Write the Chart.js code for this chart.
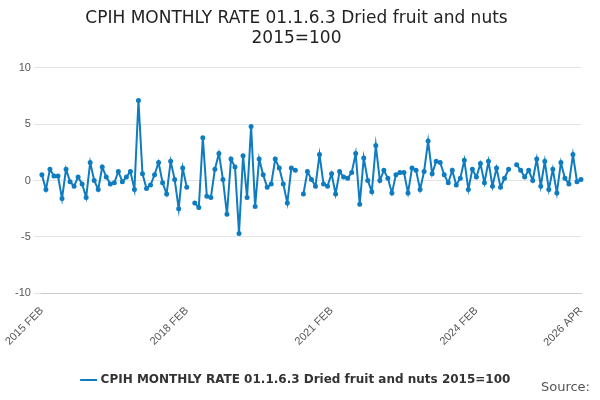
<!DOCTYPE html>
<html>
<head>
<meta charset="utf-8">
<script src="https://cdn.jsdelivr.net/npm/chart.js@4"></script>
<style>
body { margin: 0; background: #fff; font-family: "DejaVu Sans", sans-serif; }
#wrap { position: relative; width: 600px; height: 400px; }
#src { position: absolute; right: 10px; bottom: 6px; font-size: 13px; color: #555; }
</style>
</head>
<body>
<div id="wrap">
<canvas id="myChart" width="600" height="400"></canvas>
<div id="src">Source:</div>
</div>
<script>
const MONTHS = ['JAN','FEB','MAR','APR','MAY','JUN','JUL','AUG','SEP','OCT','NOV','DEC'];
const START_YEAR = 2015;
const START_MONTH = 1; // FEB
const values = [
  0.5, -0.8, 1.0, 0.4, 0.4, -1.6, 1.0, -0.1, -0.5, 0.3, -0.3, -1.5,
  1.6, 0.0, -0.8, 1.2, 0.3, -0.3, -0.2, 0.8, -0.1, 0.3, 0.8, -0.8,
  7.1, 0.6, -0.7, -0.4, 0.5, 1.6, -0.2, -1.2, 1.7, 0.1, -2.5, 1.1,
  -0.6, null, -2.0, -2.4, 3.8, -1.4, -1.5, 1.0, 2.4, 0.1, -3.0, 1.9,
  1.2, -4.7, 2.2, -1.5, 4.8, -2.3, 1.9, 0.5, -0.6, -0.3, 1.9, 1.1,
  -0.3, -2.0, 1.1, 0.9, null, -1.2, 0.8, 0.1, -0.5, 2.3, -0.3, -0.5,
  0.6, -1.2, 0.8, 0.3, 0.2, 0.7, 2.4, -2.1, 2.0, 0.0, -1.0, 3.1,
  0.0, 0.9, 0.2, -1.1, 0.5, 0.7, 0.7, -1.1, 1.1, 0.9, -0.8, 0.8,
  3.5, 0.6, 1.7, 1.6, 0.5, -0.2, 0.9, -0.4, 0.2, 1.8, -0.8, 1.0,
  0.3, 1.5, -0.2, 1.7, -0.5, 1.1, -0.6, 0.2, 1.0, null, 1.4, 0.9,
  0.3, 0.9, 0.0, 1.9, -0.5, 1.7, -0.8, 1.0, -1.1, 1.6, 0.2, -0.3,
  2.3, -0.1, 0.1
];
const labels = values.map((v, i) => {
  const m = START_MONTH + i;
  return (START_YEAR + Math.floor(m / 12)) + ' ' + MONTHS[m % 12];
});
const COLOR = '#0f7cc0';

new Chart(document.getElementById('myChart'), {
  type: 'line',
  data: {
    labels: labels,
    datasets: [{
      label: 'CPIH MONTHLY RATE 01.1.6.3 Dried fruit and nuts 2015=100',
      data: values,
      borderColor: COLOR,
      backgroundColor: COLOR,
      borderWidth: 2,
      pointRadius: 1.5,
      pointHoverRadius: 3,
      spanGaps: false
    }]
  },
  options: {
    responsive: false,
    animation: false,
    layout: { padding: { left: 12, right: 19, bottom: 4 } },
    plugins: {
      title: {
        display: true,
        text: ['CPIH MONTHLY RATE 01.1.6.3 Dried fruit and nuts', '2015=100'],
        color: '#222',
        font: { size: 17, weight: 'normal', family: 'DejaVu Sans' },
        padding: { top: 8, bottom: 19 }
      },
      legend: {
        position: 'bottom',
        labels: {
          usePointStyle: true,
          pointStyle: 'line',
          color: '#333',
          font: { size: 12, weight: 'bold', family: 'DejaVu Sans' },
          padding: 22
        }
      }
    },
    scales: {
      x: {
        grid: { display: false, drawTicks: true },
        border: { color: '#ccc' },
        ticks: {
          autoSkip: false,
          maxRotation: 45,
          minRotation: 45,
          color: '#555',
          font: { size: 11 },
          callback: function(val, i) {
            return (i % 36 === 0 || i === labels.length - 1) ? labels[i] : null;
          }
        }
      },
      y: {
        min: -10,
        max: 10,
        border: { display: false },
        grid: { color: '#e3e3e3' },
        ticks: { stepSize: 5, color: '#555', font: { size: 11 } }
      }
    }
  }
});
</script>
</body>
</html>
